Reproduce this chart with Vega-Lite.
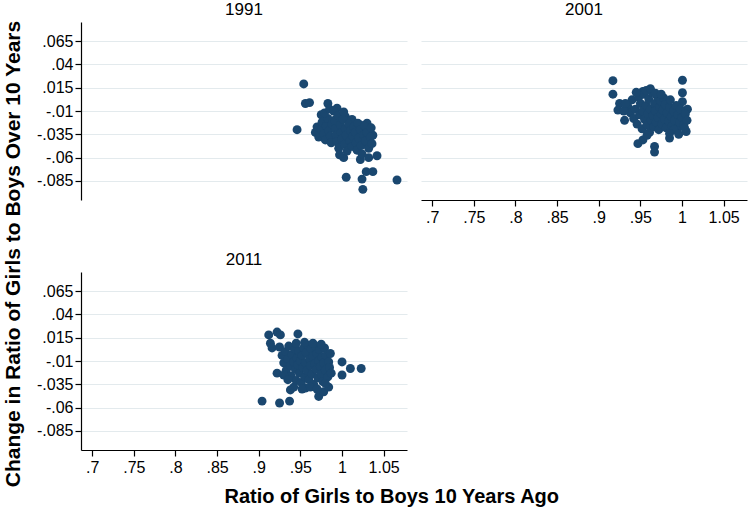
{
  "$schema": "https://vega.github.io/schema/vega-lite/v6.json",
  "padding": {"left": 2, "top": 1, "right": 2, "bottom": 2},
  "datasets": {
    "pts": [
      {"year":"1991","x":0.954,"y":0.019},{"year":"1991","x":0.956,"y":-0.002},{"year":"1991","x":0.961,"y":-0.001},{"year":"1991","x":0.983,"y":-0.002},{"year":"1991","x":0.946,"y":-0.030},{"year":"1991","x":0.975,"y":-0.014},{"year":"1991","x":0.994,"y":-0.007},{"year":"1991","x":1.004,"y":-0.016},{"year":"1991","x":1.012,"y":-0.019},{"year":"1991","x":1.030,"y":-0.023},{"year":"1991","x":1.022,"y":-0.025},{"year":"1991","x":1.037,"y":-0.036},{"year":"1991","x":1.031,"y":-0.046},{"year":"1991","x":1.042,"y":-0.058},{"year":"1991","x":1.032,"y":-0.060},{"year":"1991","x":1.022,"y":-0.062},{"year":"1991","x":1.002,"y":-0.060},{"year":"1991","x":1.005,"y":-0.081},{"year":"1991","x":1.024,"y":-0.083},{"year":"1991","x":1.029,"y":-0.075},{"year":"1991","x":1.037,"y":-0.075},{"year":"1991","x":1.025,"y":-0.094},{"year":"1991","x":1.066,"y":-0.084},
      {"year":"1991","x":0.968,"y":-0.033},{"year":"1991","x":0.970,"y":-0.027},{"year":"1991","x":0.972,"y":-0.038},{"year":"1991","x":0.975,"y":-0.030},{"year":"1991","x":0.976,"y":-0.022},{"year":"1991","x":0.978,"y":-0.035},{"year":"1991","x":0.980,"y":-0.041},{"year":"1991","x":0.981,"y":-0.026},{"year":"1991","x":0.983,"y":-0.018},{"year":"1991","x":0.984,"y":-0.031},{"year":"1991","x":0.986,"y":-0.037},{"year":"1991","x":0.987,"y":-0.044},{"year":"1991","x":0.988,"y":-0.024},{"year":"1991","x":0.979,"y":-0.012},{"year":"1991","x":0.985,"y":-0.008},
      {"year":"1991","x":0.990,"y":-0.010},{"year":"1991","x":0.991,"y":-0.020},{"year":"1991","x":0.992,"y":-0.029},{"year":"1991","x":0.993,"y":-0.036},{"year":"1991","x":0.994,"y":-0.043},{"year":"1991","x":0.995,"y":-0.015},{"year":"1991","x":0.996,"y":-0.050},{"year":"1991","x":0.998,"y":-0.025},{"year":"1991","x":0.999,"y":-0.033},{"year":"1991","x":1.000,"y":-0.040},{"year":"1991","x":1.001,"y":-0.019},{"year":"1991","x":1.003,"y":-0.046},{"year":"1991","x":1.004,"y":-0.029},{"year":"1991","x":1.005,"y":-0.036},{"year":"1991","x":1.006,"y":-0.053},{"year":"1991","x":1.008,"y":-0.024},{"year":"1991","x":1.009,"y":-0.042},{"year":"1991","x":1.010,"y":-0.031},{"year":"1991","x":1.012,"y":-0.048},{"year":"1991","x":1.013,"y":-0.037},{"year":"1991","x":1.014,"y":-0.027},{"year":"1991","x":0.997,"y":-0.057},{"year":"1991","x":1.002,"y":-0.011},
      {"year":"1991","x":1.016,"y":-0.033},{"year":"1991","x":1.017,"y":-0.044},{"year":"1991","x":1.018,"y":-0.052},{"year":"1991","x":1.019,"y":-0.023},{"year":"1991","x":1.020,"y":-0.039},{"year":"1991","x":1.022,"y":-0.030},{"year":"1991","x":1.023,"y":-0.047},{"year":"1991","x":1.024,"y":-0.056},{"year":"1991","x":1.026,"y":-0.036},{"year":"1991","x":1.027,"y":-0.026},{"year":"1991","x":1.028,"y":-0.042},{"year":"1991","x":1.030,"y":-0.033},{"year":"1991","x":1.032,"y":-0.050},{"year":"1991","x":1.034,"y":-0.038},{"year":"1991","x":1.035,"y":-0.028},{"year":"1991","x":1.036,"y":-0.045},

      {"year":"2001","x":0.917,"y":0.0225},{"year":"2001","x":0.917,"y":0.008},{"year":"2001","x":0.925,"y":-0.002},{"year":"2001","x":1.0005,"y":0.023},{"year":"2001","x":1.0005,"y":0.0096},{"year":"2001","x":1.0005,"y":0.0},{"year":"2001","x":1.0065,"y":-0.008},{"year":"2001","x":0.923,"y":-0.009},{"year":"2001","x":0.931,"y":-0.020},{"year":"2001","x":0.953,"y":0.011},{"year":"2001","x":1.005,"y":-0.032},{"year":"2001","x":0.985,"y":-0.039},{"year":"2001","x":0.947,"y":-0.045},{"year":"2001","x":0.953,"y":-0.041},{"year":"2001","x":0.967,"y":-0.048},{"year":"2001","x":0.967,"y":-0.054},
      {"year":"2001","x":0.935,"y":-0.005},{"year":"2001","x":0.938,"y":-0.012},{"year":"2001","x":0.940,"y":0.002},{"year":"2001","x":0.942,"y":-0.018},{"year":"2001","x":0.944,"y":-0.008},{"year":"2001","x":0.946,"y":-0.024},{"year":"2001","x":0.948,"y":0.005},{"year":"2001","x":0.949,"y":-0.014},{"year":"2001","x":0.950,"y":-0.002},{"year":"2001","x":0.952,"y":-0.029},{"year":"2001","x":0.953,"y":-0.010},{"year":"2001","x":0.954,"y":0.008},{"year":"2001","x":0.955,"y":-0.019},{"year":"2001","x":0.957,"y":-0.004},{"year":"2001","x":0.958,"y":-0.025},{"year":"2001","x":0.959,"y":-0.013},{"year":"2001","x":0.960,"y":0.003},{"year":"2001","x":0.961,"y":-0.033},{"year":"2001","x":0.962,"y":-0.008},{"year":"2001","x":0.963,"y":-0.020},{"year":"2001","x":0.964,"y":0.010},{"year":"2001","x":0.965,"y":-0.015},{"year":"2001","x":0.966,"y":-0.027},{"year":"2001","x":0.967,"y":-0.002},{"year":"2001","x":0.968,"y":-0.010},{"year":"2001","x":0.969,"y":-0.022},{"year":"2001","x":0.970,"y":0.006},{"year":"2001","x":0.971,"y":-0.017},{"year":"2001","x":0.972,"y":-0.030},{"year":"2001","x":0.973,"y":-0.006},{"year":"2001","x":0.974,"y":0.001},{"year":"2001","x":0.975,"y":-0.013},{"year":"2001","x":0.976,"y":-0.024},{"year":"2001","x":0.977,"y":-0.009},{"year":"2001","x":0.978,"y":0.004},{"year":"2001","x":0.979,"y":-0.019},{"year":"2001","x":0.980,"y":-0.003},{"year":"2001","x":0.981,"y":-0.028},{"year":"2001","x":0.982,"y":-0.012},{"year":"2001","x":0.984,"y":-0.021},{"year":"2001","x":0.985,"y":-0.006},{"year":"2001","x":0.986,"y":0.002},{"year":"2001","x":0.987,"y":-0.016},{"year":"2001","x":0.988,"y":-0.026},{"year":"2001","x":0.990,"y":-0.010},{"year":"2001","x":0.991,"y":-0.020},{"year":"2001","x":0.993,"y":-0.004},{"year":"2001","x":0.994,"y":-0.029},{"year":"2001","x":0.995,"y":-0.014},{"year":"2001","x":0.997,"y":-0.022},{"year":"2001","x":0.998,"y":-0.008},{"year":"2001","x":1.000,"y":-0.017},{"year":"2001","x":1.002,"y":-0.025},{"year":"2001","x":1.004,"y":-0.013},{"year":"2001","x":1.006,"y":-0.020},{"year":"2001","x":0.930,"y":-0.010},{"year":"2001","x":0.932,"y":-0.002},{"year":"2001","x":0.945,"y":0.010},{"year":"2001","x":0.957,"y":0.012},{"year":"2001","x":0.962,"y":0.014},{"year":"2001","x":0.968,"y":0.009},{"year":"2001","x":0.975,"y":0.008},{"year":"2001","x":0.990,"y":-0.030},{"year":"2001","x":0.996,"y":-0.035},{"year":"2001","x":1.003,"y":-0.028},{"year":"2001","x":0.985,"y":-0.034},{"year":"2001","x":0.958,"y":-0.036},

      {"year":"2011","x":0.912,"y":0.018},{"year":"2011","x":0.922,"y":0.021},{"year":"2011","x":0.926,"y":0.018},{"year":"2011","x":0.947,"y":0.019},{"year":"2011","x":0.914,"y":0.009},{"year":"2011","x":0.916,"y":0.004},{"year":"2011","x":1.000,"y":-0.011},{"year":"2011","x":1.010,"y":-0.018},{"year":"2011","x":1.023,"y":-0.018},{"year":"2011","x":1.000,"y":-0.025},{"year":"2011","x":0.922,"y":-0.023},{"year":"2011","x":0.904,"y":-0.053},{"year":"2011","x":0.925,"y":-0.055},{"year":"2011","x":0.937,"y":-0.053},{"year":"2011","x":0.938,"y":-0.041},{"year":"2011","x":0.942,"y":-0.038},{"year":"2011","x":0.972,"y":-0.048},{"year":"2011","x":0.978,"y":-0.043},{"year":"2011","x":0.984,"y":-0.038},{"year":"2011","x":0.956,"y":-0.039},
      {"year":"2011","x":0.925,"y":0.005},{"year":"2011","x":0.928,"y":-0.004},{"year":"2011","x":0.930,"y":-0.012},{"year":"2011","x":0.932,"y":0.000},{"year":"2011","x":0.933,"y":-0.020},{"year":"2011","x":0.935,"y":-0.008},{"year":"2011","x":0.936,"y":0.006},{"year":"2011","x":0.938,"y":-0.015},{"year":"2011","x":0.939,"y":-0.026},{"year":"2011","x":0.940,"y":-0.003},{"year":"2011","x":0.942,"y":-0.011},{"year":"2011","x":0.943,"y":0.003},{"year":"2011","x":0.944,"y":-0.019},{"year":"2011","x":0.945,"y":-0.031},{"year":"2011","x":0.946,"y":-0.007},{"year":"2011","x":0.947,"y":-0.014},{"year":"2011","x":0.948,"y":0.001},{"year":"2011","x":0.949,"y":-0.023},{"year":"2011","x":0.950,"y":-0.010},{"year":"2011","x":0.951,"y":-0.033},{"year":"2011","x":0.952,"y":-0.004},{"year":"2011","x":0.953,"y":-0.017},{"year":"2011","x":0.954,"y":0.004},{"year":"2011","x":0.955,"y":-0.027},{"year":"2011","x":0.956,"y":-0.012},{"year":"2011","x":0.957,"y":-0.001},{"year":"2011","x":0.958,"y":-0.020},{"year":"2011","x":0.959,"y":0.007},{"year":"2011","x":0.960,"y":-0.030},{"year":"2011","x":0.961,"y":-0.008},{"year":"2011","x":0.962,"y":-0.015},{"year":"2011","x":0.963,"y":0.003},{"year":"2011","x":0.964,"y":-0.024},{"year":"2011","x":0.965,"y":-0.005},{"year":"2011","x":0.966,"y":-0.035},{"year":"2011","x":0.967,"y":-0.013},{"year":"2011","x":0.968,"y":0.006},{"year":"2011","x":0.969,"y":-0.019},{"year":"2011","x":0.970,"y":-0.002},{"year":"2011","x":0.971,"y":-0.028},{"year":"2011","x":0.972,"y":-0.010},{"year":"2011","x":0.973,"y":0.002},{"year":"2011","x":0.974,"y":-0.016},{"year":"2011","x":0.975,"y":-0.024},{"year":"2011","x":0.976,"y":-0.006},{"year":"2011","x":0.977,"y":-0.032},{"year":"2011","x":0.978,"y":-0.012},{"year":"2011","x":0.979,"y":0.004},{"year":"2011","x":0.980,"y":-0.020},{"year":"2011","x":0.981,"y":-0.004},{"year":"2011","x":0.983,"y":-0.027},{"year":"2011","x":0.984,"y":-0.011},{"year":"2011","x":0.985,"y":-0.017},{"year":"2011","x":0.986,"y":-0.002},{"year":"2011","x":0.987,"y":-0.023},{"year":"2011","x":0.945,"y":0.009},{"year":"2011","x":0.955,"y":0.010},{"year":"2011","x":0.965,"y":0.009},{"year":"2011","x":0.975,"y":0.008},{"year":"2011","x":0.930,"y":-0.025},{"year":"2011","x":0.935,"y":-0.030},{"year":"2011","x":0.952,"y":-0.040},{"year":"2011","x":0.962,"y":-0.038},{"year":"2011","x":0.970,"y":-0.040},{"year":"2011","x":0.980,"y":-0.034}
    ]
  },
  "title": {"text": "Change in Ratio of Girls to Boys Over 10 Years", "orient": "left", "anchor": "middle", "fontSize": 21, "fontWeight": "bold", "offset": 13, "frame": "bounds"},
  "vconcat": [
    {
      "title": {"text": "Ratio of Girls to Boys 10 Years Ago", "orient": "bottom", "anchor": "middle", "fontSize": 20, "fontWeight": "bold", "offset": 12, "frame": "bounds"},
      "spacing": 26,
      "vconcat": [
        {
          "spacing": 14,
          "hconcat": [
            {
              "title": "1991",
              "width": 326, "height": 178,
              "data": {"name": "pts"},
              "transform": [{"filter": "datum.year == '1991'"}],
              "mark": {"type": "point", "filled": true, "size": 80, "opacity": 1, "color": "#1a476f"},
              "encoding": {
                "x": {"field": "x", "type": "quantitative", "scale": {"domain": [0.6866, 1.078], "nice": false, "zero": false}, "axis": null},
                "y": {"field": "y", "type": "quantitative", "scale": {"domain": [-0.1054, 0.0854], "nice": false, "zero": false},
                      "axis": {"title": null, "values": [-0.085, -0.06, -0.035, -0.01, 0.015, 0.04, 0.065], "labelExpr": "replace(toString(datum.value), '0.', '.')"}}
              }
            },
            {
              "title": "2001",
              "width": 326, "height": 178,
              "data": {"name": "pts"},
              "transform": [{"filter": "datum.year == '2001'"}],
              "mark": {"type": "point", "filled": true, "size": 80, "opacity": 1, "color": "#1a476f"},
              "encoding": {
                "x": {"field": "x", "type": "quantitative", "scale": {"domain": [0.6866, 1.078], "nice": false, "zero": false},
                      "axis": {"title": null, "grid": false, "values": [0.7, 0.75, 0.8, 0.85, 0.9, 0.95, 1, 1.05], "labelExpr": "replace(toString(datum.value), '0.', '.')"}},
                "y": {"field": "y", "type": "quantitative", "scale": {"domain": [-0.1054, 0.0854], "nice": false, "zero": false},
                      "axis": {"title": null, "values": [-0.085, -0.06, -0.035, -0.01, 0.015, 0.04, 0.065], "labels": false, "ticks": false, "domain": false}}
              }
            }
          ]
        },
        {
          "title": "2011",
          "width": 326, "height": 178,
          "data": {"name": "pts"},
          "transform": [{"filter": "datum.year == '2011'"}],
          "mark": {"type": "point", "filled": true, "size": 80, "opacity": 1, "color": "#1a476f"},
          "encoding": {
            "x": {"field": "x", "type": "quantitative", "scale": {"domain": [0.6866, 1.078], "nice": false, "zero": false},
                  "axis": {"title": null, "grid": false, "values": [0.7, 0.75, 0.8, 0.85, 0.9, 0.95, 1, 1.05], "labelExpr": "replace(toString(datum.value), '0.', '.')"}},
            "y": {"field": "y", "type": "quantitative", "scale": {"domain": [-0.1054, 0.0854], "nice": false, "zero": false},
                  "axis": {"title": null, "values": [-0.085, -0.06, -0.035, -0.01, 0.015, 0.04, 0.065], "labelExpr": "replace(toString(datum.value), '0.', '.')"}}
          }
        }
      ]
    }
  ],
  "config": {
    "font": "Liberation Sans",
    "background": "white",
    "view": {"stroke": null},
    "axis": {
      "labelFont": "Liberation Sans", "labelFontSize": 16, "labelColor": "#000000",
      "domainColor": "#000000", "domainWidth": 1.2, "tickColor": "#000000", "tickSize": 6, "tickWidth": 1.2,
      "labelPadding": 2, "gridColor": "#e3eaed", "gridWidth": 1.2, "labelFlush": false, "labelOverlap": false, "labelBound": false
    },
    "axisX": {"labelPadding": 3},
    "title": {"font": "Liberation Sans", "fontSize": 17, "fontWeight": "normal", "color": "#000000", "anchor": "middle", "frame": "group", "offset": 3}
  }
}
